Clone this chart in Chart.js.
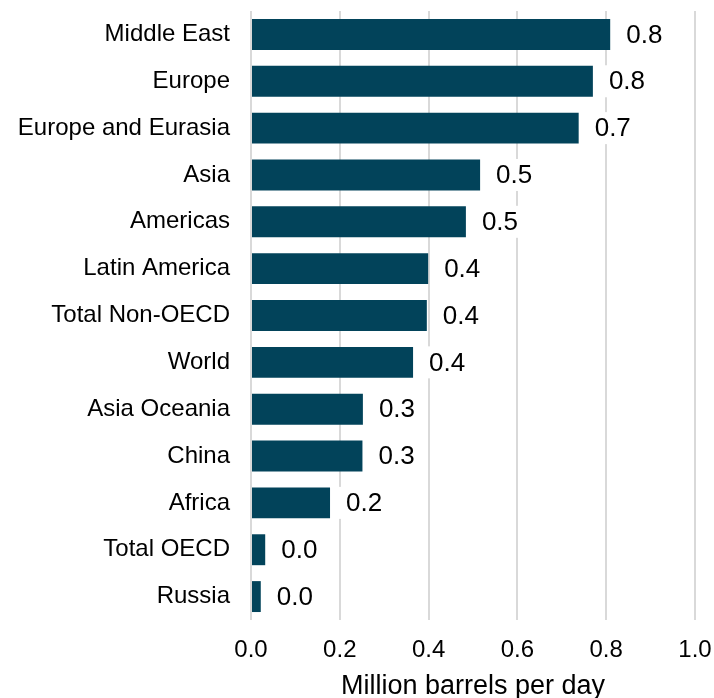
<!DOCTYPE html>
<html>
<head>
<meta charset="utf-8">
<script src="https://cdn.jsdelivr.net/npm/chart.js@4.4.1/dist/chart.umd.min.js"></script>
<style>
  html, body { margin: 0; padding: 0; background: #fff; }
  #wrap { width: 714px; height: 698px; }
</style>
</head>
<body>
<div id="wrap"><canvas id="demandChart" width="714" height="698"></canvas></div>
<script>
// Regions, largest change first
const regions = ['Middle East', 'Europe', 'Europe and Eurasia', 'Asia', 'Americas',
  'Latin America', 'Total Non-OECD', 'World', 'Asia Oceania', 'China', 'Africa',
  'Total OECD', 'Russia'];
// Million barrels per day
const values = [0.809, 0.770, 0.738, 0.516, 0.484, 0.399, 0.396, 0.365, 0.252, 0.251, 0.178, 0.032, 0.022];
const xTicks = [0, 0.2, 0.4, 0.6, 0.8, 1.0];

const barColor = '#02435a';
const fontFamily = 'Arial, "Liberation Sans", sans-serif';

// value labels on a white box to the right of each bar
const valueLabels = {
    id: 'valueLabels',
    afterDatasetsDraw(chart) {
        const ctx = chart.ctx;
        const meta = chart.getDatasetMeta(0);
        ctx.save();
        ctx.font = '26px ' + fontFamily;
        ctx.textBaseline = 'middle';
        ctx.textAlign = 'left';
        meta.data.forEach((bar, i) => {
            const text = values[i].toFixed(1);
            const w = ctx.measureText(text).width;
            const x = bar.x + 16;
            ctx.fillStyle = '#fff';
            ctx.fillRect(x - 8, bar.y - 16, w + 16, 32);
            ctx.fillStyle = '#000';
            ctx.fillText(text, x, bar.y + 1);
        });
        ctx.restore();
    }
};

const ctx = document.getElementById('demandChart').getContext('2d');
const demandChart = new Chart(ctx, {
    type: 'bar',
    data: {
        labels: regions,
        datasets: [{
            data: values,
            backgroundColor: barColor,
            categoryPercentage: 0.66,
            barPercentage: 1.0
        }]
    },
    options: {
        indexAxis: 'y',
        responsive: false,
        animation: false,
        layout: { padding: { top: 11, right: 19, left: 0, bottom: 0 } },
        plugins: {
            legend: { display: false },
            tooltip: { enabled: false }
        },
        scales: {
            x: {
                min: 0,
                max: 1.0,
                afterBuildTicks(scale) {
                    scale.ticks = xTicks.map(v => ({ value: v }));
                },
                afterFit(scale) {
                    scale.height = 78;
                    scale.paddingLeft = 0;
                    scale.paddingRight = 0;
                },
                grid: { color: '#d9d9d9', lineWidth: 2, drawTicks: false },
                border: { display: false },
                ticks: {
                    padding: 16,
                    color: '#000',
                    font: { family: fontFamily, size: 24 },
                    callback: v => Number(v).toFixed(1)
                },
                title: {
                    display: true,
                    text: 'Million barrels per day',
                    color: '#000',
                    padding: { top: 0, bottom: -5 },
                    font: { family: fontFamily, size: 27 }
                }
            },
            y: {
                afterFit(scale) {
                    scale.width = 251;
                    scale.paddingTop = 0;
                    scale.paddingBottom = 0;
                },
                grid: { display: false, drawTicks: false },
                border: { display: false },
                ticks: {
                    padding: 21,
                    color: '#000',
                    font: { family: fontFamily, size: 24 }
                }
            }
        }
    },
    plugins: [valueLabels]
});
</script>
</body>
</html>
